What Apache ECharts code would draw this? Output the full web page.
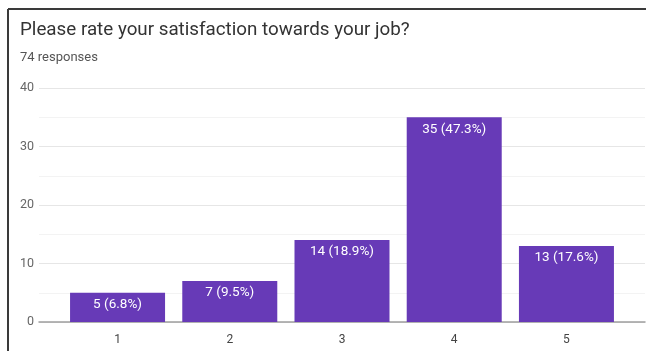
<!DOCTYPE html>
<html>
<head>
<meta charset="utf-8">
<script src="https://cdn.jsdelivr.net/npm/echarts@6/dist/echarts.min.js"></script>
<style>
  html, body { margin: 0; padding: 0; background: #fff; }
  #chart { width: 646px; height: 351px; }
</style>
</head>
<body>
<div id="chart"></div>
<script>
// Ratings 1..5 and number of responses for each
const categories = [1, 2, 3, 4, 5];
const counts = [5, 7, 14, 35, 13];
const totalResponses = 74;
const yTicks = [0, 10, 20, 30, 40];

const FONT = 'Roboto, "Noto Sans", Arial, sans-serif';

const chart = echarts.init(document.getElementById('chart'), null, { renderer: 'canvas' });

const barData = categories.map((c, i) => [c, counts[i]]);

chart.setOption({
  animation: false,
  backgroundColor: '#ffffff',
  title: [
    {
      text: 'Please rate your satisfaction towards your job?',
      left: 20, top: 21, padding: 0,
      textStyle: { fontFamily: FONT, fontSize: 18.8, fontWeight: 'normal', color: '#333333' }
    },
    {
      text: totalResponses + ' responses',
      left: 20, top: 51, padding: 0,
      textStyle: { fontFamily: FONT, fontSize: 13, fontWeight: 'normal', color: '#555555' }
    }
  ],
  graphic: [
    // outer frame along the left and top edges
    { type: 'line', shape: { x1: 8, y1: 9, x2: 646, y2: 9 }, style: { stroke: '#3a3a3a', lineWidth: 2 } },
    { type: 'line', shape: { x1: 8, y1: 9, x2: 8, y2: 351 }, style: { stroke: '#3a3a3a', lineWidth: 2 } }
  ],
  grid: { left: 39, right: 1, top: 88, bottom: 29 },
  xAxis: {
    type: 'value',
    min: 0.3, max: 5.7,
    splitLine: { show: false },
    axisLine: { show: true, lineStyle: { color: '#9e9e9e', width: 1.5 } },
    axisTick: { show: false },
    axisLabel: {
      customValues: categories,
      margin: 12,
      fontFamily: FONT, fontSize: 12, color: '#444444',
      formatter: v => String(v)
    }
  },
  yAxis: {
    type: 'value',
    min: yTicks[0], max: yTicks[yTicks.length - 1], interval: 10,
    axisLine: { show: false },
    axisTick: { show: false },
    axisLabel: { margin: 5, fontFamily: FONT, fontSize: 12.5, color: '#666666' },
    splitLine: { lineStyle: { color: '#e6e6e6', width: 1 } },
    minorTick: { show: false, splitNumber: 2 },
    minorSplitLine: { show: true, lineStyle: { color: '#f3f3f3', width: 1 } }
  },
  series: [{
    type: 'bar',
    data: barData,
    barWidth: 95,
    itemStyle: { color: '#673ab7' },
    label: {
      show: true,
      position: 'insideTop',
      distance: 5,
      color: '#ffffff',
      fontFamily: FONT,
      fontSize: 13.5,
      formatter: p => {
        const v = p.value[1];
        return v + ' (' + (v / totalResponses * 100).toFixed(1) + '%)';
      }
    }
  }]
});
</script>
</body>
</html>
